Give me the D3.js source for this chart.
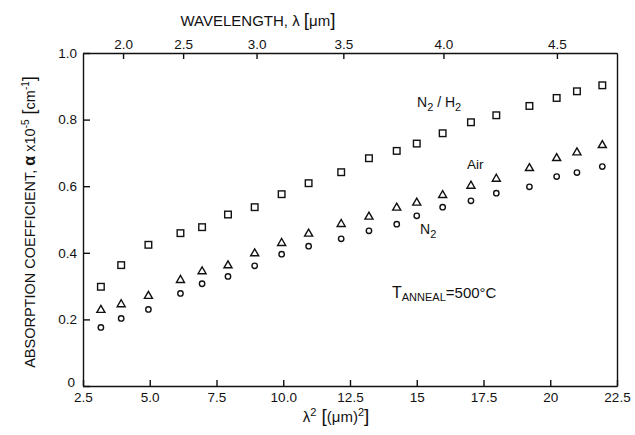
<!DOCTYPE html>
<html><head><meta charset="utf-8">
<script src="https://cdn.jsdelivr.net/npm/d3@7"></script>
<style>body{margin:0;background:#fff}svg text{font-family:"Liberation Sans",Arial,sans-serif;fill:#111}</style>
</head><body><svg id="c" width="635" height="435"></svg>
<script>
const lambda2 = [3.17,3.93,4.95,6.15,6.96,7.93,8.93,9.94,10.95,12.17,13.21,14.25,15.0,15.97,17.03,17.98,19.22,20.24,21.0,21.95];
const n2h2 = [0.298,0.363,0.424,0.459,0.477,0.515,0.537,0.576,0.609,0.642,0.684,0.706,0.728,0.759,0.792,0.813,0.841,0.865,0.885,0.903];
const air  = [0.228,0.245,0.270,0.318,0.344,0.362,0.398,0.429,0.457,0.486,0.508,0.535,0.550,0.573,0.601,0.622,0.654,0.684,0.701,0.723];
const n2   = [0.176,0.203,0.230,0.278,0.307,0.329,0.361,0.396,0.420,0.442,0.466,0.486,0.511,0.537,0.556,0.579,0.598,0.629,0.641,0.659];
const xTicks = [2.5,5,7.5,10,12.5,15,17.5,20,22.5];
const xTickLabels = ["2.5","5.0","7.5","10.0","12.5","15","17.5","20","22.5"];
const yTicks = [0,0.2,0.4,0.6,0.8,1.0];
const yTickLabels = ["0","0.2","0.4","0.6","0.8","1.0"];
const wlTicks = [2.0,2.5,3.0,3.5,4.0,4.5];
const wlTickLabels = ["2.0","2.5","3.0","3.5","4.0","4.5"];

(function(){
const m = {l:83, r:18, t:53, b:49};
const W = 635, H = 435;
const svg = d3.select("#c");
const x = d3.scaleLinear().domain([2.5,22.5]).range([m.l, W-m.r]);
const y = d3.scaleLinear().domain([0,1]).range([H-m.b, m.t]);

function style(g){
  g.selectAll("path,line").attr("stroke","#111").attr("stroke-width",1.4);
  g.selectAll("text").attr("font-size",13.5).attr("fill","#111").attr("font-family","Liberation Sans, Arial, sans-serif");
}
svg.append("g").attr("transform",`translate(0,${H-m.b})`)
  .call(d3.axisBottom(x).tickValues(xTicks).tickFormat((d,i)=>xTickLabels[i]).tickSizeInner(-6).tickSizeOuter(0).tickPadding(6))
  .call(style);
const ya = svg.append("g").attr("transform",`translate(${m.l},0)`)
  .call(d3.axisLeft(y).tickValues(yTicks).tickFormat((d,i)=>yTickLabels[i]).tickSizeInner(-7).tickSizeOuter(0).tickPadding(6))
  .call(style);
ya.selectAll(".tick").filter(d=>d===0).select("text").attr("dy","0.05em").attr("x",-8);
svg.append("g").attr("transform",`translate(0,${m.t})`)
  .call(d3.axisTop(x).tickValues(wlTicks.map(w=>w*w)).tickFormat((d,i)=>wlTickLabels[i]).tickSizeInner(-6).tickSizeOuter(0).tickPadding(4))
  .call(style);
svg.append("g").attr("transform",`translate(${W-m.r},0)`)
  .call(d3.axisRight(y).tickValues([]).tickSizeOuter(0))
  .call(style);

const pts = (arr)=> arr.map((v,i)=>({x:lambda2[i], y:v}));
const g = svg.append("g").attr("fill","none").attr("stroke","#111").attr("stroke-width",1.4);
g.selectAll(".sq").data(pts(n2h2)).join("rect")
  .attr("x",d=>x(d.x)-3.3).attr("y",d=>y(d.y)-3.3).attr("width",6.6).attr("height",6.6);
const tri = d3.symbol().type(d3.symbolTriangle).size(28);
g.selectAll(".tr").data(pts(air)).join("path")
  .attr("d",tri).attr("transform",d=>`translate(${x(d.x)},${y(d.y)})`);
g.selectAll(".ci").data(pts(n2)).join("circle")
  .attr("cx",d=>x(d.x)).attr("cy",d=>y(d.y)).attr("r",2.7);

const lab = svg.append("g").attr("font-size",14).style("fill","#000");
const t1 = lab.append("text").attr("x",417).attr("y",107).attr("font-size",14);
t1.append("tspan").text("N");
t1.append("tspan").attr("font-size",11).attr("dy",4).text("2");
t1.append("tspan").attr("dy",-4).text(" / H");
t1.append("tspan").attr("font-size",11).attr("dy",4).text("2");
lab.append("text").attr("x",467).attr("y",169).attr("font-size",13.5).text("Air");
const t2 = lab.append("text").attr("x",420).attr("y",234).attr("font-size",14);
t2.append("tspan").text("N");
t2.append("tspan").attr("font-size",11).attr("dy",4).text("2");
const t3 = lab.append("text").attr("x",392).attr("y",298).attr("font-size",16);
t3.append("tspan").text("T");
t3.append("tspan").attr("font-size",11).attr("dy",3).text("ANNEAL");
t3.append("tspan").attr("font-size",15).attr("dy",-3).text("=500°C");

const topT = svg.append("text").attr("x",258).attr("y",26).attr("text-anchor","middle").attr("font-size",15);
topT.append("tspan").text("WAVELENGTH, λ ");
topT.append("tspan").attr("font-size",19).text("[");
topT.append("tspan").text("μm");
topT.append("tspan").attr("font-size",19).text("]");

const bot = svg.append("text").attr("x",336).attr("y",422).attr("text-anchor","middle").attr("font-size",15);
bot.append("tspan").text("λ");
bot.append("tspan").attr("font-size",11).attr("dy",-6).text("2");
bot.append("tspan").attr("dy",6).attr("font-size",19).text(" [");
bot.append("tspan").attr("font-size",15).text("(μm)");
bot.append("tspan").attr("font-size",11).attr("dy",-6).text("2");
bot.append("tspan").attr("dy",6).attr("font-size",19).text("]");

const yl = svg.append("text").attr("transform",`translate(35,222) rotate(-90)`).attr("text-anchor","middle").attr("font-size",14.5);
yl.append("tspan").text("ABSORPTION  COEFFICIENT, ");
yl.append("tspan").attr("font-weight","bold").attr("font-size",16).text("α");
yl.append("tspan").text(" x10");
yl.append("tspan").attr("font-size",10).attr("dy",-6).text("-5");
yl.append("tspan").attr("dy",6).attr("font-size",18).text(" [");
yl.append("tspan").text("cm");
yl.append("tspan").attr("font-size",10).attr("dy",-6).text("-1");
yl.append("tspan").attr("dy",6).attr("font-size",18).text("]");
})();
</script></body></html>
